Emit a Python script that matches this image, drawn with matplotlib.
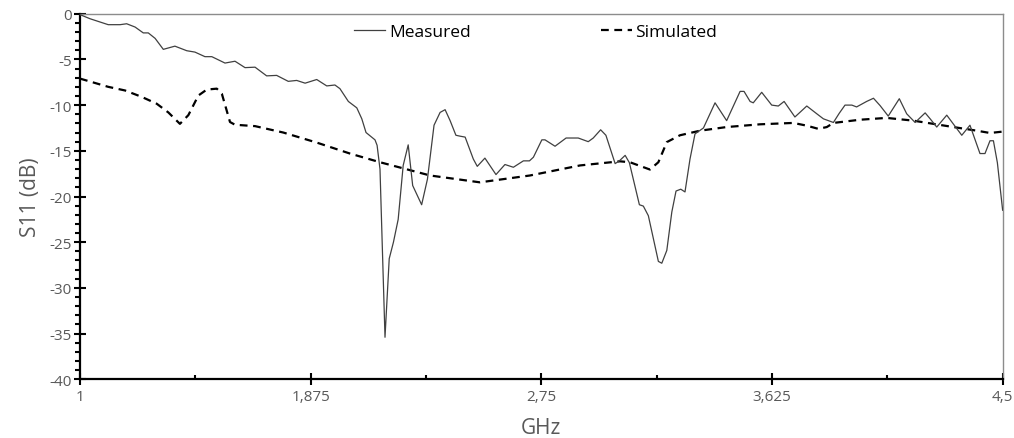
#!/usr/bin/env python

import numpy as np
import matplotlib as mpl
import matplotlib.pyplot as plt
from matplotlib.ticker import FixedLocator, MultipleLocator

mpl.rc('font', family=['Open Sans', 'DejaVu Sans'])

# measured S11 (GHz, dB)
freq_meas = [
    1.000, 1.038, 1.107, 1.152, 1.177, 1.209, 1.240, 1.259, 1.285, 1.316,
    1.360, 1.405, 1.436, 1.474, 1.500, 1.550, 1.588, 1.626, 1.664, 1.708,
    1.746, 1.790, 1.822, 1.854, 1.898, 1.936, 1.967, 1.986, 2.018, 2.050,
    2.069, 2.085, 2.119, 2.127, 2.138, 2.157, 2.173, 2.189, 2.207, 2.226,
    2.245, 2.262, 2.296, 2.318, 2.343, 2.366, 2.385, 2.404, 2.426, 2.442,
    2.461, 2.492, 2.507, 2.536, 2.578, 2.612, 2.644, 2.682, 2.705, 2.720,
    2.752, 2.764, 2.802, 2.844, 2.890, 2.928, 2.947, 2.975, 2.995, 3.030,
    3.046, 3.068, 3.084, 3.122, 3.137, 3.156, 3.175, 3.194, 3.207, 3.226,
    3.245, 3.261, 3.279, 3.295, 3.314, 3.333, 3.365, 3.409, 3.453, 3.504,
    3.519, 3.542, 3.554, 3.586, 3.624, 3.649, 3.671, 3.712, 3.757, 3.795,
    3.820, 3.858, 3.880, 3.902, 3.928, 3.946, 3.984, 4.010, 4.035, 4.066,
    4.108, 4.136, 4.168, 4.206, 4.225, 4.250, 4.288, 4.319, 4.345, 4.376,
    4.414, 4.433, 4.452, 4.465, 4.480, 4.500,
]
s11_meas = [
    -0.1, -0.55, -1.2, -1.2, -1.1, -1.46, -2.1, -2.1, -2.7, -3.9,
    -3.55, -4.05, -4.2, -4.7, -4.7, -5.4, -5.2, -5.9, -5.85, -6.8,
    -6.75, -7.4, -7.3, -7.6, -7.2, -7.9, -7.8, -8.2, -9.6, -10.3,
    -11.5, -13.0, -13.8, -14.4, -17.0, -35.4, -26.8, -25.0, -22.5, -16.6,
    -14.35, -18.8, -20.9, -18.1, -12.2, -10.8, -10.5, -11.7, -13.3, -13.4,
    -13.5, -15.9, -16.7, -15.8, -17.6, -16.5, -16.8, -16.1, -16.1, -15.7,
    -13.8, -13.8, -14.5, -13.6, -13.6, -14.0, -13.6, -12.7, -13.3, -16.4,
    -16.1, -15.5, -16.3, -20.9, -21.05, -22.1, -24.6, -27.1, -27.3, -25.9,
    -21.7, -19.4, -19.2, -19.5, -15.9, -13.15, -12.5, -9.75, -11.7, -8.5,
    -8.5, -9.6, -9.75, -8.6, -10.0, -10.1, -9.6, -11.3, -10.1, -10.95,
    -11.5, -11.9, -10.9, -10.0, -10.0, -10.2, -9.6, -9.25, -10.05, -11.2,
    -9.3, -10.95, -11.9, -10.85, -11.5, -12.4, -11.1, -12.3, -13.3, -12.2,
    -15.3, -15.3, -13.9, -13.9, -16.3, -21.5,
]

# simulated S11 (GHz, dB)
freq_sim = [
    1.000, 1.107, 1.171, 1.234, 1.291, 1.335, 1.379, 1.411, 1.449, 1.481,
    1.519, 1.538, 1.569, 1.588, 1.664, 1.771, 1.898, 2.024, 2.138, 2.328,
    2.517, 2.707, 2.897, 3.048, 3.086, 3.162, 3.194, 3.226, 3.276, 3.352,
    3.453, 3.580, 3.706, 3.757, 3.801, 3.833, 3.858, 3.959, 4.060, 4.161,
    4.237, 4.313, 4.402, 4.452, 4.500,
]
s11_sim = [
    -7.1, -8.0, -8.4, -9.1, -9.85, -10.8, -12.05, -11.1, -8.95, -8.3,
    -8.2, -8.75, -11.85, -12.15, -12.3, -13.0, -14.1, -15.3, -16.25, -17.7,
    -18.45, -17.7, -16.6, -16.15, -16.25, -17.05, -16.25, -14.05, -13.3, -12.8,
    -12.4, -12.1, -11.95, -12.25, -12.6, -12.4, -11.95, -11.6, -11.4, -11.7,
    -12.05, -12.4, -12.8, -13.05, -12.9,
]

xticks = [1.0, 1.875, 2.75, 3.625, 4.5]
xtick_labels = ['1', '1,875', '2,75', '3,625', '4,5']
yticks = [0, -5, -10, -15, -20, -25, -30, -35, -40]
ytick_labels = ['0', '-5', '-10', '-15', '-20', '-25', '-30', '-35', '-40']


def main() -> None:

    grey = '#595959'

    fig = plt.figure(figsize=(10.14, 4.39), dpi=100)
    ax = fig.add_axes([0.0789, 0.1337, 0.9099, 0.8328])

    ax.plot(
        freq_meas,
        s11_meas,
        lw=0.9,
        ls='-',
        color='#404040',
        label='Measured',
        zorder=3,
    )

    ax.plot(
        freq_sim,
        s11_sim,
        lw=1.6,
        ls=(0, (3.5, 2.5)),
        color='k',
        label='Simulated',
        zorder=2,
    )

    ax.set_xlim(1.0, 4.5)
    ax.set_ylim(-40, 0)

    ax.xaxis.set_major_locator(FixedLocator(xticks))
    ax.set_xticklabels(xtick_labels)
    ax.xaxis.set_minor_locator(FixedLocator([1.4375, 2.3125, 3.1875, 4.0625]))
    ax.yaxis.set_major_locator(FixedLocator(yticks))
    ax.set_yticklabels(ytick_labels)
    ax.yaxis.set_minor_locator(MultipleLocator(1))

    ax.tick_params(axis='x', which='major', direction='inout', length=8,
                   width=1.5, labelsize=11, labelcolor=grey, pad=3)
    ax.tick_params(axis='x', which='minor', direction='in', length=3,
                   width=1.5)
    ax.tick_params(axis='y', which='major', direction='inout', length=8,
                   width=1.5, labelsize=11, labelcolor=grey, pad=2)
    ax.tick_params(axis='y', which='minor', direction='out', length=3.5,
                   width=1.5)

    for side in ('left', 'bottom'):
        ax.spines[side].set_linewidth(1.6)
        ax.spines[side].set_color('k')
    for side in ('top', 'right'):
        ax.spines[side].set_linewidth(1.0)
        ax.spines[side].set_color('#8c8c8c')

    ax.set_xlabel('GHz', fontsize=15, color=grey, labelpad=9)
    ax.set_ylabel('S11 (dB)', fontsize=15, color=grey, labelpad=6)

    ax.legend(
        ncol=2,
        loc='upper center',
        bbox_to_anchor=(0.494, 1.015),
        frameon=False,
        fontsize=12.5,
        handlelength=1.8,
        handletextpad=0.2,
        columnspacing=7.5,
    )

    fig.savefig('out.png', dpi=100)

    return


if __name__ == '__main__':
    main()
